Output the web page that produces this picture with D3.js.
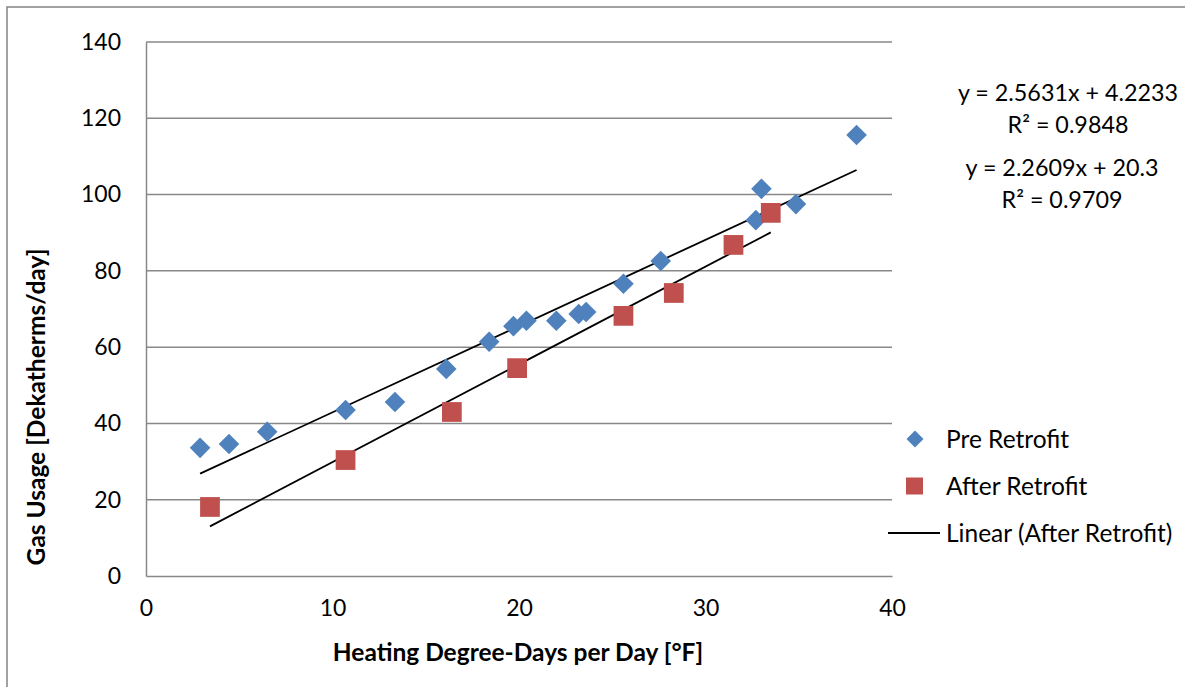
<!DOCTYPE html>
<html><head><meta charset="utf-8">
<script src="https://cdn.jsdelivr.net/npm/d3@7"></script>
<style>body{margin:0;background:#fff;} svg{display:block;}</style>
</head><body>
<svg id="chart" width="1185" height="687"></svg>
<script>
// ---- data ----
const preX = [2.9, 4.45, 6.5, 10.7, 13.35, 16.1, 18.4, 19.7, 20.4, 22.0, 23.2, 23.6, 25.6, 27.6, 32.7, 33.0, 34.85, 38.1];
const preY = [33.6, 34.6, 37.8, 43.5, 45.6, 54.3, 61.4, 65.5, 66.9, 66.9, 68.7, 69.2, 76.6, 82.6, 93.3, 101.5, 97.5, 115.6];
const afterX = [3.43, 10.7, 16.4, 19.9, 25.6, 28.3, 31.5, 33.5];
const afterY = [18.1, 30.4, 43.0, 54.5, 68.2, 74.2, 86.8, 95.2];
const fitSlopes = [2.5631, 2.2609];      // [After Retrofit, Pre Retrofit]
const fitIntercepts = [4.2233, 20.3];
const fitR2 = ["0.9848", "0.9709"];
const xTicks = [0, 10, 20, 30, 40];
const yTicks = [0, 20, 40, 60, 80, 100, 120, 140];
const seriesNames = ["Pre Retrofit", "After Retrofit", "Linear (After Retrofit)"];
const xTitle = "Heating Degree-Days per Day [°F]";
const yTitle = "Gas Usage [Dekatherms/day]";

// ---- styles ----
const FONT = "Lato, 'Open Sans', sans-serif";
const BLUE = "#4F81BD", RED = "#C0504D", GRID = "#888888";

const svg = d3.select("#chart");
svg.append("rect").attr("width", 1185).attr("height", 687).attr("fill", "#fff");
// outer frame
svg.append("rect").attr("x", 7).attr("y", 7).attr("width", 1200).attr("height", 700)
  .attr("fill", "none").attr("stroke", "#8a8a8a").attr("stroke-width", 1.6);

const x = d3.scaleLinear().domain([0, 40]).range([146, 892]);
const y = d3.scaleLinear().domain([0, 140]).range([576, 42]);

// gridlines
svg.append("g").selectAll("line").data(yTicks.filter(d => d > 0)).join("line")
  .attr("x1", x(0)).attr("x2", x(40)).attr("y1", d => y(d)).attr("y2", d => y(d))
  .attr("stroke", GRID).attr("stroke-width", 1.5);

// axes
const yAxis = d3.axisLeft(y).tickValues(yTicks).tickSize(0).tickPadding(25);
const gy = svg.append("g").attr("transform", `translate(${x(0)},0)`).call(yAxis);
const xAxis = d3.axisBottom(x).tickValues(xTicks).tickSize(0).tickPadding(24);
const gx = svg.append("g").attr("transform", `translate(0,${y(0)})`).call(xAxis);
[gx, gy].forEach(g => {
  g.select(".domain").attr("stroke", GRID).attr("stroke-width", 1.5);
  g.selectAll("text").attr("font-family", FONT).attr("font-size", 23).attr("fill", "#000");
});

// axis titles
svg.append("text").attr("x", 518).attr("y", 661).attr("text-anchor", "middle")
  .attr("font-family", FONT).attr("font-size", 24.5).attr("font-weight", "bold").text(xTitle);
svg.append("text").attr("transform", "translate(45,407) rotate(-90)").attr("text-anchor", "middle")
  .attr("font-family", FONT).attr("font-size", 24.5).attr("font-weight", "bold").text(yTitle);

// trend lines
const fits = [
  {xs: afterX, i: 0},
  {xs: preX, i: 1}
];
svg.append("g").selectAll("line").data(fits).join("line")
  .attr("x1", d => x(d3.min(d.xs))).attr("x2", d => x(d3.max(d.xs)))
  .attr("y1", d => y(fitSlopes[d.i] * d3.min(d.xs) + fitIntercepts[d.i]))
  .attr("y2", d => y(fitSlopes[d.i] * d3.max(d.xs) + fitIntercepts[d.i]))
  .attr("stroke", "#000").attr("stroke-width", 1.8);

// markers
const diamond = d3.symbol().type(d3.symbolSquare).size(212);
const square = d3.symbol().type(d3.symbolSquare).size(390);
svg.append("g").selectAll("path").data(preX.map((v, i) => [v, preY[i]])).join("path")
  .attr("d", diamond).attr("fill", BLUE)
  .attr("transform", d => `translate(${x(d[0])},${y(d[1])}) rotate(45)`);
svg.append("g").selectAll("path").data(afterX.map((v, i) => [v, afterY[i]])).join("path")
  .attr("d", square).attr("fill", RED)
  .attr("transform", d => `translate(${x(d[0])},${y(d[1])})`);

// equation labels
const eqCenters = [[1068, 93, 125], [1062, 168, 200]];
fitSlopes.forEach((s, i) => {
  const [cx, y1, y2] = eqCenters[i];
  svg.append("text").attr("x", cx).attr("y", y1 + 8).attr("text-anchor", "middle")
    .attr("font-family", FONT).attr("font-size", 23.3).text(`y = ${s}x + ${fitIntercepts[i]}`);
  svg.append("text").attr("x", cx).attr("y", y2 + 8).attr("text-anchor", "middle")
    .attr("font-family", FONT).attr("font-size", 23.3).text(`R² = ${fitR2[i]}`);
});

// legend
const lg = svg.append("g");
lg.append("path").attr("d", d3.symbol().type(d3.symbolSquare).size(144)())
  .attr("fill", BLUE).attr("transform", "translate(915,439) rotate(45)");
lg.append("path").attr("d", d3.symbol().type(d3.symbolSquare).size(289)())
  .attr("fill", RED).attr("transform", "translate(914.5,486)");
lg.append("line").attr("x1", 888).attr("x2", 940).attr("y1", 533).attr("y2", 533)
  .attr("stroke", "#000").attr("stroke-width", 1.8);
[439, 486, 533].forEach((cy, i) => {
  lg.append("text").attr("x", 946).attr("y", cy + 8.5)
    .attr("font-family", FONT).attr("font-size", 24.5).text(seriesNames[i]);
});
</script>
</body></html>
